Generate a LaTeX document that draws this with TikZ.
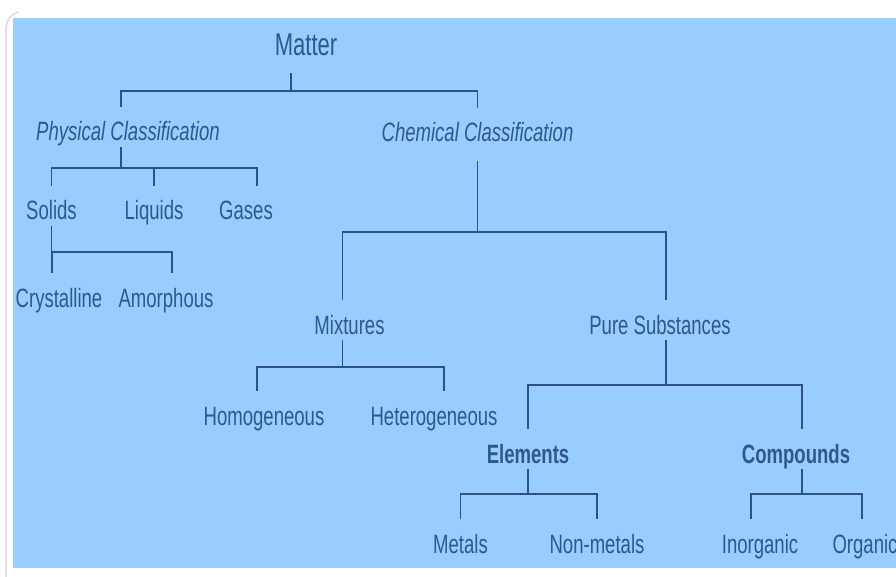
\documentclass[tikz,border=0pt]{standalone}
\usepackage{fontspec}
\setmainfont[FakeStretch=0.70]{Liberation Sans}
\definecolor{bg}{RGB}{153,204,255}
\definecolor{ink}{RGB}{48,90,134}
\definecolor{linec}{RGB}{44,84,126}
\definecolor{pinkedge}{RGB}{238,196,228}
\begin{document}
\begin{tikzpicture}[x=1pt,y=-1pt,
  lbl/.style={anchor=base, text=ink, font=\fontsize{26.5}{31}\selectfont,
              inner sep=0pt, text height=34pt, text depth=6pt},
  itl/.style={font=\fontsize{26.5}{31}\selectfont\itshape},
  bld/.style={font=\fontsize{26.5}{31}\selectfont\bfseries},
  big/.style={font=\fontsize{31.5}{36}\selectfont},
  conn/.style={draw=linec, line width=1.8pt}]
\useasboundingbox (0,0) rectangle (896,577);
\fill[bg] (13,18) rectangle (896,568);
\draw[pinkedge, line width=1.2pt] (6,577) -- (6,30) to[out=90,in=200] (18,12);

% nodes
\node[lbl,big,text depth=17pt] (matter) at (306,56) {Matter};
\node[lbl,itl] (phys) at (128,141) {Physical Classification};
\node[lbl,itl,text depth=19pt] (chem) at (477.5,142) {Chemical Classification};
\node[lbl] (solids) at (51.5,220) {Solids};
\node[lbl] (liquids) at (154,220) {Liquids};
\node[lbl] (gases) at (246,220) {Gases};
\node[lbl] (cryst) at (59,307) {Crystalline};
\node[lbl] (amor) at (166,307) {Amorphous};
\node[lbl] (mix) at (349.5,334) {Mixtures};
\node[lbl] (pure) at (660,334) {Pure Substances};
\node[lbl] (homo) at (264,425) {Homogeneous};
\node[lbl] (hetero) at (434,425) {Heterogeneous};
\node[lbl,bld] (elem) at (528,463) {Elements};
\node[lbl,bld] (comp) at (796,463) {Compounds};
\node[lbl] (metals) at (460.5,553) {Metals};
\node[lbl] (nonmet) at (597,553) {Non-metals};
\node[lbl] (inorg) at (760,553) {Inorganic};
\node[lbl] (org) at (865,553) {Organic};

% connectors
\draw[conn] ([xshift=-15pt]matter.south) -- ++(0,18) -| ([xshift=-7pt]phys.north);
\draw[conn] ([xshift=-15pt]matter.south) -- ++(0,18) -| (chem.north);

\draw[conn] ([xshift=-7pt]phys.south) -- ++(0,21) -| (solids.north);
\draw[conn] ([xshift=-7pt]phys.south) -- ++(0,21) -| (liquids.north);
\draw[conn] ([xshift=-7pt]phys.south) -- ++(0,21) -| ([xshift=11pt]gases.north);

\draw[conn] (chem.south) -- ++(0,71) -| ([xshift=-7pt]mix.north);
\draw[conn] (chem.south) -- ++(0,71) -| ([xshift=6pt]pure.north);

\draw[conn] (solids.south) -- ++(0,26) -| ([xshift=-7pt]cryst.north);
\draw[conn] (solids.south) -- ++(0,26) -| ([xshift=6pt]amor.north);

\draw[conn] ([xshift=-7pt]mix.south) -- ++(0,27) -| ([xshift=-7pt]homo.north);
\draw[conn] ([xshift=-7pt]mix.south) -- ++(0,27) -| ([xshift=10pt]hetero.north);

\draw[conn] ([xshift=6pt]pure.south) -- ++(0,45) -| (elem.north);
\draw[conn] ([xshift=6pt]pure.south) -- ++(0,45) -| ([xshift=6pt]comp.north);

\draw[conn] (elem.south) -- ++(0,25) -| (metals.north);
\draw[conn] (elem.south) -- ++(0,25) -| (nonmet.north);

\draw[conn] ([xshift=6pt]comp.south) -- ++(0,25) -| ([xshift=-9pt]inorg.north);
\draw[conn] ([xshift=6pt]comp.south) -- ++(0,25) -| ([xshift=-3pt]org.north);
\end{tikzpicture}
\end{document}
